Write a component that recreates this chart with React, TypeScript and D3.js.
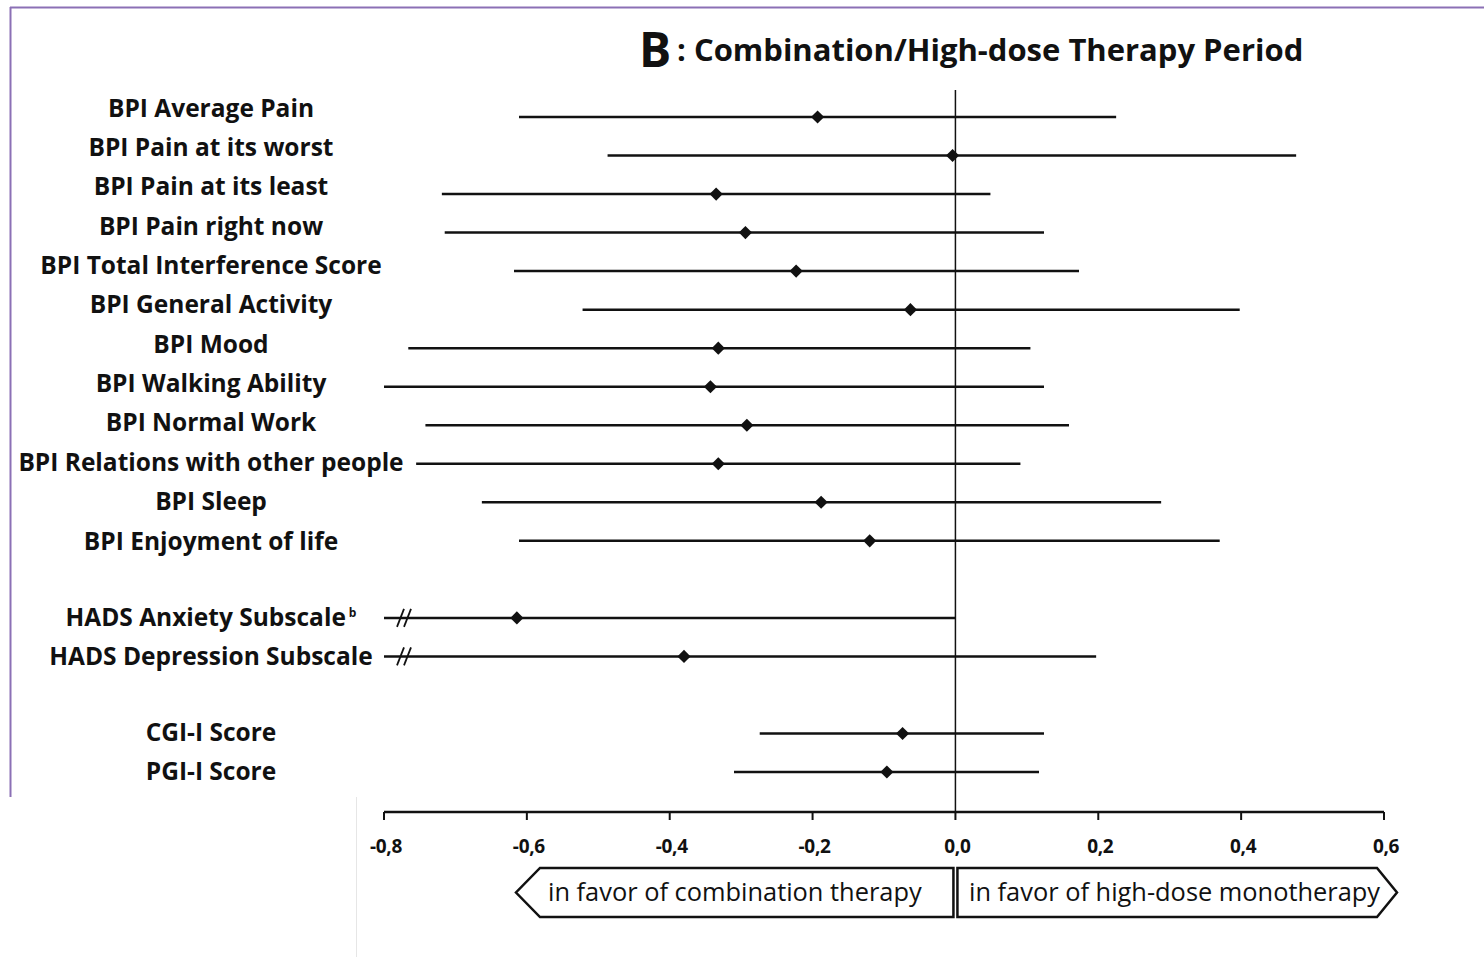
import React from "react";
import * as d3 from "d3";

// Outcomes, in display order, with their row slot (gaps separate the groups)
const outcomes = [
  "BPI Average Pain",
  "BPI Pain at its worst",
  "BPI Pain at its least",
  "BPI Pain right now",
  "BPI Total Interference Score",
  "BPI General Activity",
  "BPI Mood",
  "BPI Walking Ability",
  "BPI Normal Work",
  "BPI Relations with other people",
  "BPI Sleep",
  "BPI Enjoyment of life",
  "HADS Anxiety Subscale",
  "HADS Depression Subscale",
  "CGI-I Score",
  "PGI-I Score",
];
const slots = [0, 1, 2, 3, 4, 5, 6, 7, 8, 9, 10, 11, 13, 14, 16, 17];
const superscripts = ["", "", "", "", "", "", "", "", "", "", "", "", "b", "", "", ""];

// Effect estimates with lower / upper confidence bounds
const estimates = [-0.193, -0.004, -0.335, -0.294, -0.223, -0.063, -0.332, -0.343, -0.292, -0.332, -0.188, -0.12, -0.614, -0.38, -0.074, -0.096];
const lowerCI = [-0.611, -0.487, -0.719, -0.715, -0.618, -0.522, -0.766, -0.8, -0.742, -0.755, -0.663, -0.611, -0.95, -0.9, -0.274, -0.31];
const upperCI = [0.225, 0.477, 0.049, 0.124, 0.173, 0.398, 0.105, 0.124, 0.159, 0.091, 0.288, 0.37, 0.0, 0.197, 0.124, 0.117];

const tickValues = [-0.8, -0.6, -0.4, -0.2, 0.0, 0.2, 0.4, 0.6];

const W = 1484;
const H = 957;
const FONT = "'Open Sans', Lato, sans-serif";
const PURPLE = "#8b70b5";

export default function App() {
  const x = d3.scaleLinear().domain([-0.8, 0.6]).range([384, 1384]);
  const y = d3.scaleLinear().domain([0, 17]).range([117, 772]);
  const labelY = d3.scaleLinear().domain([0, 11, 17]).range([108, 541, 771]);
  const axisY = 812;
  const fmt = (v: number) => d3.format(".1f")(v).replace(".", ",").replace("−", "-");
  const xMin = x.domain()[0];

  const diamond = d3.symbol().type(d3.symbolDiamond2).size(110)();

  const arrowTop = 868;
  const arrowBot = 917;
  const arrowMid = (arrowTop + arrowBot) / 2;

  return (
    <svg width={W} height={H} style={{ position: "absolute", left: 0, top: 0, background: "#fff" }}>
      <rect x={0} y={0} width={W} height={H} fill="#fff" />
      {/* frame */}
      <line x1={10} x2={W} y1={7.5} y2={7.5} stroke={PURPLE} strokeWidth={2} />
      <line x1={10.5} x2={10.5} y1={7} y2={797} stroke={PURPLE} strokeWidth={2} />
      <line x1={356.5} x2={356.5} y1={797} y2={H} stroke="#e6e6e6" strokeWidth={1} />

      {/* title */}
      <text x={639} y={67} fontFamily={FONT} fontWeight={700} fontSize={48} fill="#111">B</text>
      <text x={677} y={61} fontFamily={FONT} fontWeight={700} fontSize={31} fill="#111">
        : Combination/High-dose Therapy Period
      </text>

      {/* zero reference line */}
      <line x1={x(0)} x2={x(0)} y1={90} y2={axisY} stroke="#111" strokeWidth={1.5} />

      {/* confidence intervals and estimates */}
      {outcomes.map((name, i) => {
        const cy = y(slots[i]);
        const lo = Math.max(lowerCI[i], xMin);
        const broken = lowerCI[i] < xMin;
        return (
          <g key={name}>
            <line x1={x(lo)} x2={x(upperCI[i])} y1={cy} y2={cy} stroke="#111" strokeWidth={2.5} />
            {broken && (
              <g stroke="#111" strokeWidth={1.8}>
                <line x1={x(xMin) + 13} y1={cy + 9} x2={x(xMin) + 20} y2={cy - 9} />
                <line x1={x(xMin) + 20} y1={cy + 9} x2={x(xMin) + 27} y2={cy - 9} />
              </g>
            )}
            <path d={diamond!} transform={`translate(${x(estimates[i])},${cy})`} fill="#111" />
            <text
              x={211}
              y={labelY(slots[i])}
              dy="0.35em"
              textAnchor="middle"
              fontFamily={FONT}
              fontWeight={700}
              fontSize={24.5}
              fill="#111"
            >
              {name}
              {superscripts[i] && (
                <tspan dx={3} dy={-9} fontSize={12}>{superscripts[i]}</tspan>
              )}
            </text>
          </g>
        );
      })}

      {/* x axis */}
      <line x1={x(-0.8)} x2={x(0.6)} y1={axisY} y2={axisY} stroke="#111" strokeWidth={2.5} />
      {tickValues.map((t) => (
        <g key={t}>
          <line x1={x(t)} x2={x(t)} y1={axisY} y2={axisY + 8} stroke="#111" strokeWidth={2} />
          <text
            x={x(t) + 2}
            y={853}
            textAnchor="middle"
            fontFamily={FONT}
            fontWeight={700}
            fontSize={19}
            letterSpacing={-0.3}
            fill="#111"
          >
            {fmt(t)}
          </text>
        </g>
      ))}

      {/* direction arrows */}
      <path
        d={`M${x(0) - 2},${arrowTop} L540,${arrowTop} L516,${arrowMid} L540,${arrowBot} L${x(0) - 2},${arrowBot} Z`}
        fill="#fff"
        stroke="#111"
        strokeWidth={2.5}
      />
      <path
        d={`M${x(0) + 2},${arrowTop} L1377,${arrowTop} L1397,${arrowMid} L1377,${arrowBot} L${x(0) + 2},${arrowBot} Z`}
        fill="#fff"
        stroke="#111"
        strokeWidth={2.5}
      />
      <text x={548} y={arrowMid} dy="0.35em" fontFamily={FONT} fontSize={25.4} fill="#111">
        in favor of combination therapy
      </text>
      <text x={969} y={arrowMid} dy="0.35em" fontFamily={FONT} fontSize={25.4} fill="#111">
        in favor of high-dose monotherapy
      </text>
    </svg>
  );
}
